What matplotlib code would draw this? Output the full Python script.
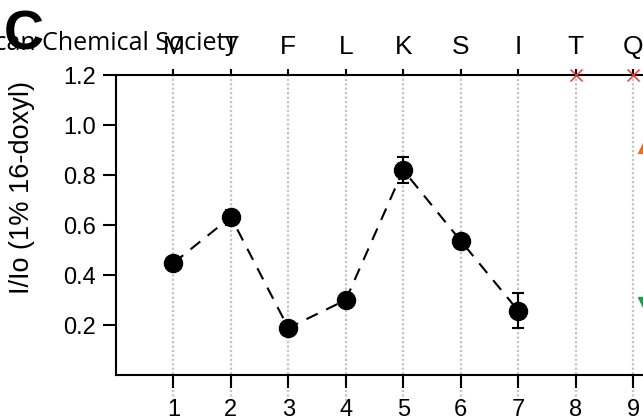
import matplotlib.pyplot as plt
import numpy as np

plt.rcParams['font.family'] = ['Liberation Sans', 'DejaVu Sans']

# data
positions = [1, 2, 3, 4, 5, 6, 7]
ratio = [0.448, 0.632, 0.188, 0.30, 0.82, 0.537, 0.258]
ratio_err = [0.0, 0.03, 0.0, 0.0, 0.052, 0.0, 0.07]
missing_pos = [8, 9]
missing_val = [1.2, 1.2]
residues = ['M', 'T', 'F', 'L', 'K', 'S', 'I', 'T', 'Q']
up_marker = (9.22, 0.92)
down_marker = (9.22, 0.28)

fig = plt.figure(figsize=(6.43, 4.19), dpi=100)
W, H = 643, 419
# axes runs past the right edge, the figure is a crop
x0, x1 = 116, 700
ytop, ybot = 75, 375
unit = 57.44
ax = fig.add_axes([x0 / W, 1 - ybot / H, (x1 - x0) / W, (ybot - ytop) / H])
ax.set_xlim(0, (x1 - x0) / unit)
ax.set_ylim(0, 1.2)

for x in range(1, 10):
    ax.axvline(x, color='#c4c4c4', ls=(0, (1, 1)), lw=1.6, zorder=0, clip_on=False,
               ymin=-0.085, ymax=1.0)

ax.plot(positions, ratio, color='black', ls=(0, (6, 4.5)), lw=1.5, zorder=2)
ax.errorbar(positions, ratio, yerr=ratio_err, fmt='o', color='black', ms=13,
            capsize=4.5, capthick=1.5, elinewidth=1.5, zorder=3)
ax.plot(missing_pos, missing_val, 'x', color='#ff2a2a', ms=9, mew=1.0,
        clip_on=False, zorder=4)
ax.plot(*up_marker, '^', color='#f26b21', ms=11, clip_on=False)
ax.plot(*down_marker, 'v', color='#1b9e4b', ms=11, clip_on=False)

ax.spines['right'].set_visible(False)
for s in ['left', 'bottom', 'top']:
    ax.spines[s].set_linewidth(1.5)

ax.set_xticks(range(1, 10))
ax.set_xticklabels([str(i) for i in range(1, 10)])
ax.set_yticks([0.2, 0.4, 0.6, 0.8, 1.0, 1.2])
ax.set_yticklabels(['0.2', '0.4', '0.6', '0.8', '1.0', '1.2'])
ax.tick_params(axis='x', direction='out', length=9.5, width=1.5, labelsize=17, pad=8)
ax.tick_params(axis='y', direction='out', length=9.5, width=1.5, labelsize=17, pad=5)

top = ax.secondary_xaxis('top')
top.set_xticks(range(1, 10))
top.set_xticklabels(residues)
top.tick_params(direction='out', length=4.5, width=1.5, labelsize=19, pad=7)
top.spines['top'].set_visible(False)

ax.set_ylabel('I/Io (1% 16-doxyl)', fontsize=19.5)
ax.yaxis.set_label_coords(-(x0 - 35) / (x1 - x0), (ybot - 187) / (ybot - ytop))

fig.text(238 / W, 1 - 50 / H, 'American Chemical Society', ha='right', va='baseline',
         fontsize=18, family=['Open Sans', 'DejaVu Sans'])
fig.text(4 / W, 1 - 50 / H, 'C', ha='left', va='baseline', fontsize=40,
         fontweight='bold', family=['Liberation Sans'])
fig.text(2 / W, 1 - 417 / H, 'D', ha='left', va='top', fontsize=40,
         fontweight='bold', family=['Liberation Sans'])

fig.savefig('out.png', dpi=100)
